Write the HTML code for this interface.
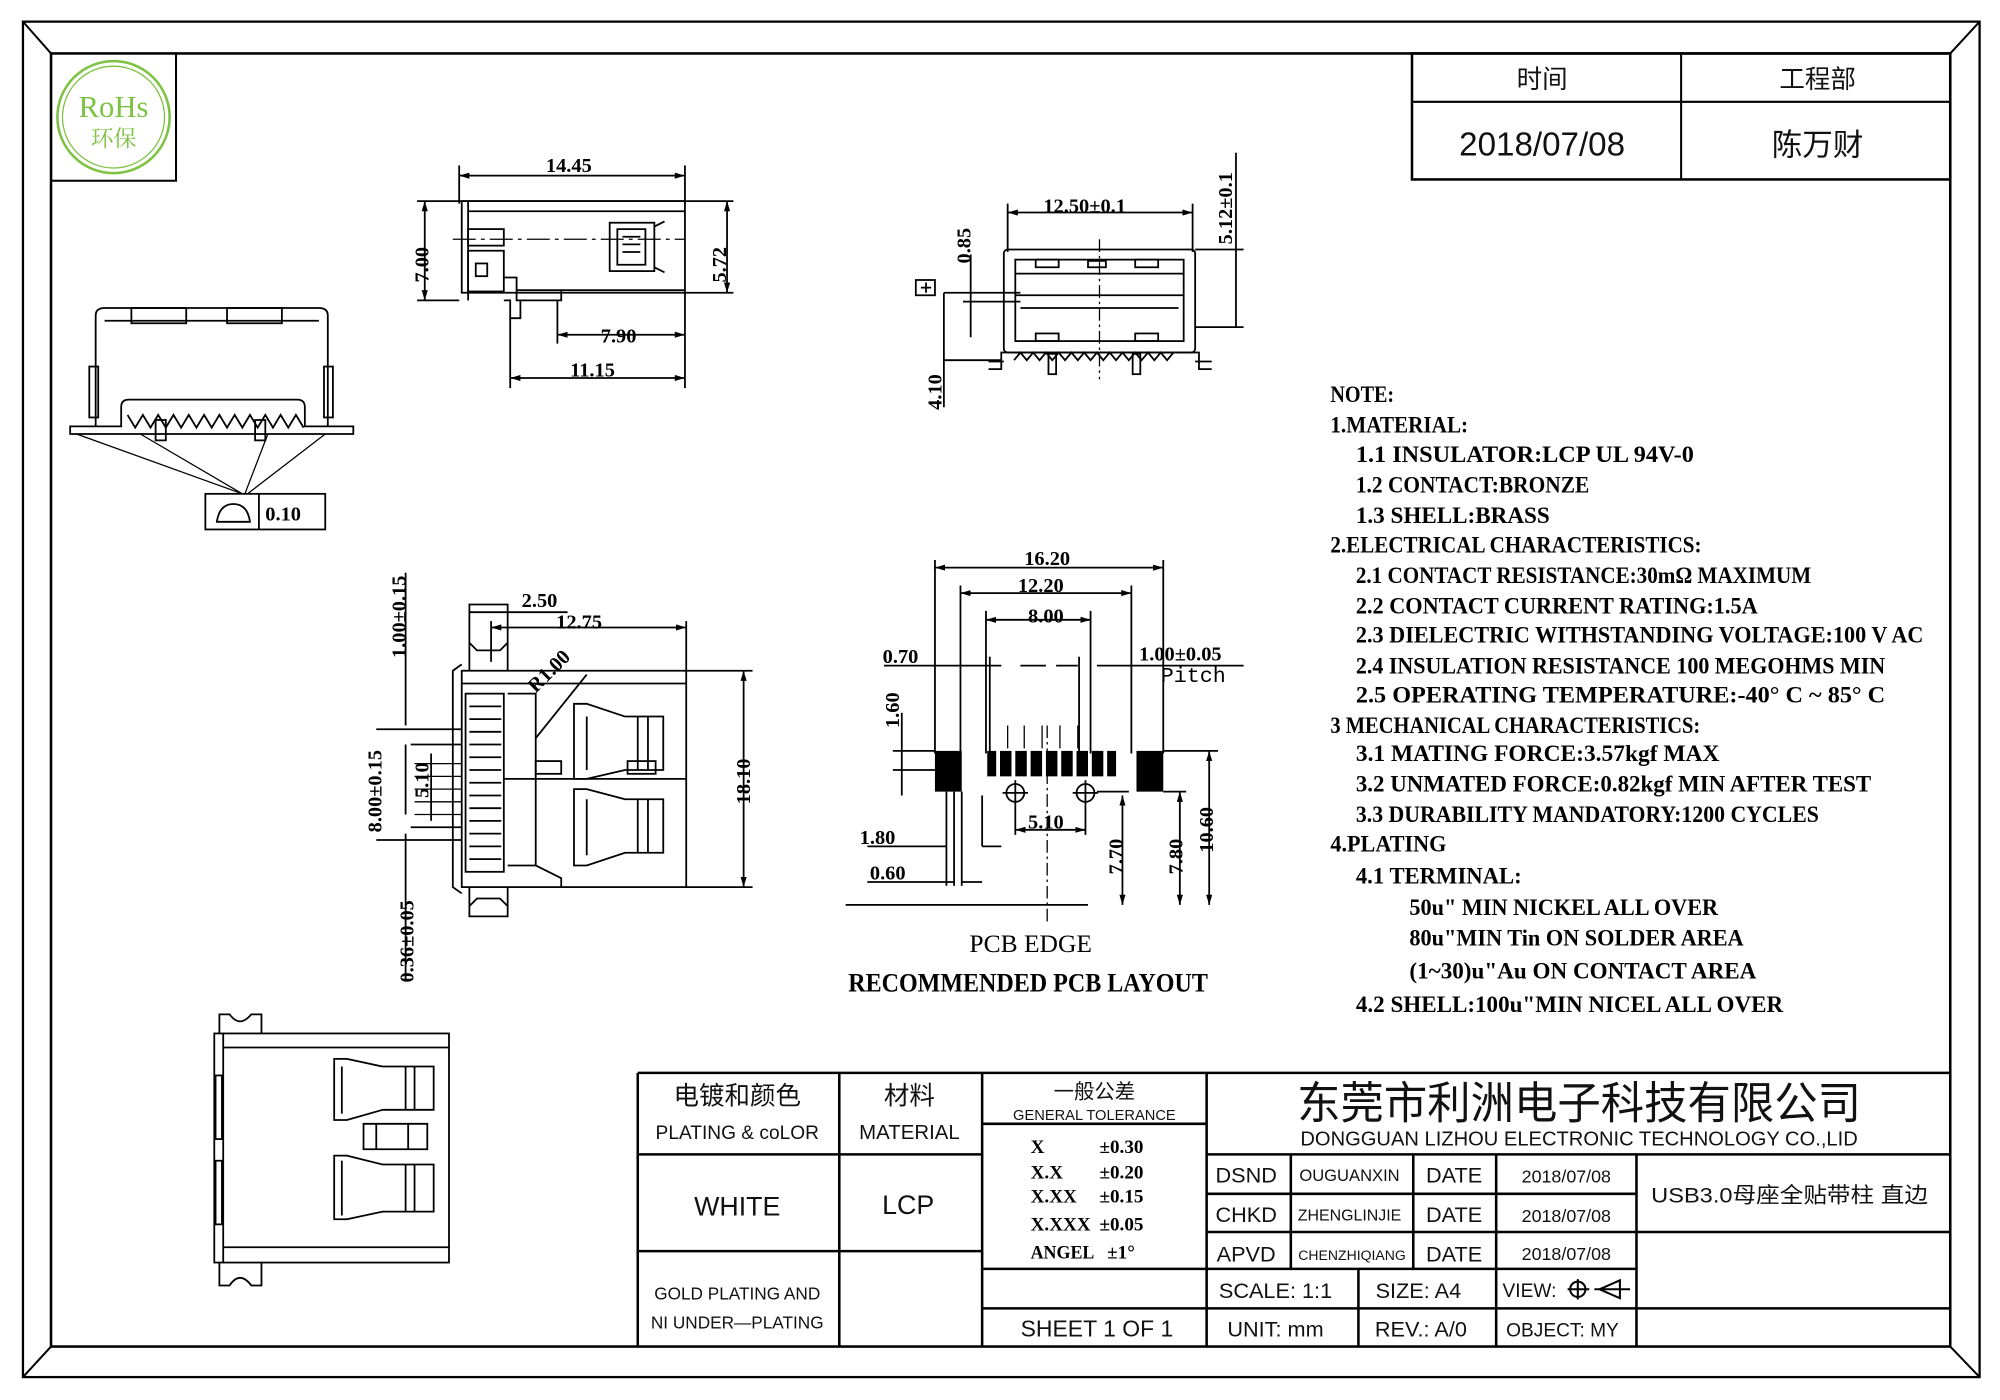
<!DOCTYPE html>
<html><head><meta charset="utf-8"><style>
html,body{margin:0;padding:0;background:#fff;}
svg{display:block;}
.t{font-family:"Liberation Sans","Noto Sans CJK SC",sans-serif;fill:#111;}
.n{font-family:"Liberation Serif",serif;font-weight:bold;fill:#000;}
.d{font-family:"Liberation Serif",serif;font-weight:bold;fill:#000;font-size:16px;}
</style></head><body>
<svg width="2000" height="1400" viewBox="0 0 1568 1100" preserveAspectRatio="none" xmlns="http://www.w3.org/2000/svg">
<defs>
<marker id="a" viewBox="0 0 10 6" refX="10" refY="3" markerWidth="8" markerHeight="5" orient="auto-start-reverse" markerUnits="userSpaceOnUse"><path d="M0 0 L10 3 L0 6 Z" fill="#000"/></marker>
</defs>
<rect width="1568" height="1100" fill="#fff"/>
<g fill="none" stroke="#000" stroke-width="1.6">
<rect x="18" y="17" width="1534" height="1065" stroke-width="1.8"/>
<rect x="40" y="42" width="1489" height="1016" stroke-width="2"/>
<line x1="18" y1="17" x2="40" y2="42"/><line x1="1552" y1="17" x2="1529" y2="42"/>
<line x1="18" y1="1082" x2="40" y2="1058"/><line x1="1552" y1="1082" x2="1529" y2="1058"/>
<rect x="40" y="42" width="98" height="100"/>
<rect x="1107" y="42" width="422" height="99" stroke-width="2"/>
<line x1="1107" y1="80" x2="1529" y2="80"/><line x1="1318" y1="42" x2="1318" y2="141"/>
<g stroke-width="2">
<line x1="500" y1="843" x2="1529" y2="843"/>
<line x1="500" y1="843" x2="500" y2="1058"/>
<line x1="658" y1="843" x2="658" y2="1058"/>
<line x1="770" y1="843" x2="770" y2="1058"/>
<line x1="946" y1="843" x2="946" y2="1058"/>
<line x1="1012" y1="907" x2="1012" y2="997"/>
<line x1="1108" y1="907" x2="1108" y2="997"/>
<line x1="1173" y1="907" x2="1173" y2="1058"/>
<line x1="1283" y1="907" x2="1283" y2="1058"/>
<line x1="1065" y1="997" x2="1065" y2="1058"/>
<line x1="500" y1="907" x2="770" y2="907"/>
<line x1="500" y1="983" x2="770" y2="983"/>
<line x1="770" y1="883" x2="946" y2="883"/>
<line x1="770" y1="997" x2="946" y2="997"/>
<line x1="770" y1="1028" x2="946" y2="1028"/>
<line x1="946" y1="907" x2="1529" y2="907"/>
<line x1="946" y1="938" x2="1283" y2="938"/>
<line x1="946" y1="968" x2="1529" y2="968"/>
<line x1="946" y1="997" x2="1283" y2="997"/>
<line x1="946" y1="1028" x2="1529" y2="1028"/>
</g>
<circle cx="1237" cy="1013" r="6"/><line x1="1229" y1="1013" x2="1246" y2="1013"/><line x1="1237" y1="1005" x2="1237" y2="1021"/>
<path d="M1254 1013 L1270 1006 L1270 1020 Z M1250 1013 L1278 1013"/>
</g>
<circle cx="89" cy="92" r="44" fill="none" stroke="#7dc242" stroke-width="2"/>
<circle cx="89" cy="92" r="40" fill="none" stroke="#7dc242" stroke-width="1"/>
<text x="89" y="92" text-anchor="middle" font-family="Liberation Serif,serif" font-size="24" fill="#7dc242">RoHs</text>
<text x="89" y="115" text-anchor="middle" font-family="Noto Serif CJK SC,serif" font-size="18" fill="#7dc242">环保</text>

<g class="t" text-anchor="middle">
<text x="1209" y="69" font-size="20">时间</text>
<text x="1425" y="69" font-size="20">工程部</text>
<text x="1209" y="122" font-size="26">2018/07/08</text>
<text x="1425" y="122" font-size="24">陈万财</text>
<text x="578" y="868" font-size="20">电镀和颜色</text>
<text x="578" y="895" font-size="15">PLATING &amp; coLOR</text>
<text x="713" y="868" font-size="20">材料</text>
<text x="713" y="895" font-size="16">MATERIAL</text>
<text x="858" y="863" font-size="16">一般公差</text>
<text x="858" y="880" font-size="11.5">GENERAL TOLERANCE</text>
<text x="578" y="955" font-size="21">WHITE</text>
<text x="712" y="954" font-size="21">LCP</text>
<text x="578" y="1021" font-size="13.5">GOLD PLATING AND</text>
<text x="578" y="1044" font-size="13.5">NI UNDER—PLATING</text>
<text x="1238" y="879" font-size="35" textLength="442" lengthAdjust="spacingAndGlyphs">东莞市利洲电子科技有限公司</text>
<text x="1238" y="900" font-size="16" textLength="437" lengthAdjust="spacingAndGlyphs">DONGGUAN LIZHOU ELECTRONIC TECHNOLOGY CO.,LID</text>
<text x="977" y="929" font-size="17">DSND</text>
<text x="977" y="960" font-size="17">CHKD</text>
<text x="977" y="991" font-size="17">APVD</text>
<text x="1058" y="928" font-size="13">OUGUANXIN</text>
<text x="1058" y="959" font-size="12.5">ZHENGLINJIE</text>
<text x="1060" y="990" font-size="11">CHENZHIQIANG</text>
<text x="1140" y="929" font-size="17">DATE</text>
<text x="1140" y="960" font-size="17">DATE</text>
<text x="1140" y="991" font-size="17">DATE</text>
<text x="1228" y="929" font-size="14">2018/07/08</text>
<text x="1228" y="960" font-size="14">2018/07/08</text>
<text x="1228" y="990" font-size="14">2018/07/08</text>
<text x="1403" y="945" font-size="17" textLength="217" lengthAdjust="spacingAndGlyphs">USB3.0母座全贴带柱 直边</text>
<text x="1000" y="1020" font-size="17">SCALE:  1:1</text>
<text x="1112" y="1020" font-size="17">SIZE:  A4</text>
<text x="860" y="1050" font-size="18">SHEET 1 OF 1</text>
<text x="1000" y="1050" font-size="17">UNIT:  mm</text>
<text x="1114" y="1050" font-size="17">REV.:  A/0</text>
<text x="1225" y="1050" font-size="15">OBJECT:  MY</text>
</g>
<text class="t" x="1178" y="1019" font-size="15">VIEW:</text>
<g class="n" font-size="15">
<text x="808" y="906">X</text><text x="862" y="906">±0.30</text>
<text x="808" y="926">X.X</text><text x="862" y="926">±0.20</text>
<text x="808" y="945">X.XX</text><text x="862" y="945">±0.15</text>
<text x="808" y="967">X.XXX</text><text x="862" y="967">±0.05</text>
<text x="808" y="989" textLength="50" lengthAdjust="spacingAndGlyphs">ANGEL</text><text x="868" y="989">±1°</text>
</g>

<g class="n" font-size="18">
<text x="1043" y="316" textLength="50" lengthAdjust="spacingAndGlyphs">NOTE:</text>
<text x="1043" y="340" textLength="108" lengthAdjust="spacingAndGlyphs">1.MATERIAL:</text>
<text x="1063" y="363" textLength="265" lengthAdjust="spacingAndGlyphs">1.1 INSULATOR:LCP UL 94V-0</text>
<text x="1063" y="387" textLength="183" lengthAdjust="spacingAndGlyphs">1.2 CONTACT:BRONZE</text>
<text x="1063" y="411" textLength="152" lengthAdjust="spacingAndGlyphs">1.3 SHELL:BRASS</text>
<text x="1043" y="434" textLength="291" lengthAdjust="spacingAndGlyphs">2.ELECTRICAL CHARACTERISTICS:</text>
<text x="1063" y="458" textLength="357" lengthAdjust="spacingAndGlyphs">2.1 CONTACT RESISTANCE:30mΩ MAXIMUM</text>
<text x="1063" y="482" textLength="315" lengthAdjust="spacingAndGlyphs">2.2 CONTACT CURRENT RATING:1.5A</text>
<text x="1063" y="505" textLength="445" lengthAdjust="spacingAndGlyphs">2.3 DIELECTRIC WITHSTANDING VOLTAGE:100 V AC</text>
<text x="1063" y="529" textLength="415" lengthAdjust="spacingAndGlyphs">2.4 INSULATION RESISTANCE 100 MEGOHMS MIN</text>
<text x="1063" y="552" textLength="415" lengthAdjust="spacingAndGlyphs">2.5 OPERATING TEMPERATURE:-40° C ~ 85° C</text>
<text x="1043" y="576" textLength="290" lengthAdjust="spacingAndGlyphs">3 MECHANICAL CHARACTERISTICS:</text>
<text x="1063" y="598" textLength="285" lengthAdjust="spacingAndGlyphs">3.1 MATING FORCE:3.57kgf MAX</text>
<text x="1063" y="622" textLength="404" lengthAdjust="spacingAndGlyphs">3.2 UNMATED FORCE:0.82kgf MIN AFTER TEST</text>
<text x="1063" y="646" textLength="363" lengthAdjust="spacingAndGlyphs">3.3 DURABILITY MANDATORY:1200 CYCLES</text>
<text x="1043" y="669" textLength="91" lengthAdjust="spacingAndGlyphs">4.PLATING</text>
<text x="1063" y="694" textLength="130" lengthAdjust="spacingAndGlyphs">4.1 TERMINAL:</text>
<text x="1105" y="719" textLength="242" lengthAdjust="spacingAndGlyphs">50u" MIN NICKEL ALL OVER</text>
<text x="1105" y="743" textLength="262" lengthAdjust="spacingAndGlyphs">80u"MIN Tin ON SOLDER AREA</text>
<text x="1105" y="769" textLength="272" lengthAdjust="spacingAndGlyphs">(1~30)u"Au ON CONTACT AREA</text>
<text x="1063" y="795" textLength="335" lengthAdjust="spacingAndGlyphs">4.2 SHELL:100u"MIN NICEL ALL OVER</text>
</g>

<g fill="none" stroke="#000" stroke-width="1.4">
<!-- front view top-left -->
<path d="M75 335 L75 248 Q75 242 82 242 L250 242 Q257 242 257 248 L257 335"/>
<line x1="82" y1="252" x2="250" y2="252"/>
<rect x="103" y="242" width="43" height="12"/><rect x="178" y="242" width="43" height="12"/>
<rect x="70" y="288" width="7" height="40"/><rect x="254" y="288" width="7" height="40"/>
<path d="M55 335 L95 335 L95 320 Q95 314 101 314 L233 314 Q239 314 239 320 L239 335 L277 335 L277 341 L55 341 Z"/>
<path d="M100 326 l6 10 l6 -10 l6 10 l6 -10 l6 10 l6 -10 l6 10 l6 -10 l6 10 l6 -10 l6 10 l6 -10 l6 10 l6 -10 l6 10 l6 -10 l6 10 l6 -10 l6 10 l6 -10 l6 10 l6 -10 l6 10"/>
<rect x="122" y="330" width="8" height="16"/><rect x="200" y="330" width="8" height="16"/>
<path d="M60 341 L190 388 M110 341 L190 388 M210 341 L192 388 M255 341 L194 388" stroke-width="1"/>
<rect x="161" y="388" width="94" height="28"/><line x1="203" y1="388" x2="203" y2="416"/>
<path d="M170 410 Q172 396 183 396 Q194 396 196 410 Z"/>

<!-- side view -->
<line x1="360" y1="138" x2="537" y2="138" marker-start="url(#a)" marker-end="url(#a)"/><line x1="360" y1="130" x2="360" y2="160"/><line x1="537" y1="130" x2="537" y2="160"/>
<line x1="327" y1="158" x2="575" y2="158"/><line x1="327" y1="236" x2="360" y2="236"/>
<line x1="333" y1="158" x2="333" y2="236" marker-start="url(#a)" marker-end="url(#a)"/>
<rect x="362" y="158" width="175" height="72"/>
<line x1="367" y1="166" x2="537" y2="166"/>
<line x1="367" y1="158" x2="367" y2="236"/>
<rect x="367" y="180" width="28" height="13"/>
<rect x="367" y="197" width="28" height="32"/><rect x="373" y="207" width="9" height="10"/>
<path d="M395 218 L405 218 L405 236 L440 236 L440 228 M405 228 L537 228"/>
<path d="M395 236 L400 236 L400 250 L408 250 L408 236"/>
<rect x="478" y="175" width="35" height="38"/><path d="M484 180 h22 v28 h-22 z M488 186 h14 M488 192 h14 M488 198 h14"/>
<path d="M513 178 l8 -4 M513 210 l8 4"/>
<line x1="355" y1="188" x2="537" y2="188" stroke-dasharray="18 4 3 4" stroke-width="1"/>
<line x1="537" y1="230" x2="575" y2="230"/><line x1="570" y1="158" x2="570" y2="230" marker-start="url(#a)" marker-end="url(#a)"/>
<line x1="437" y1="263" x2="537" y2="263" marker-start="url(#a)" marker-end="url(#a)"/><line x1="437" y1="236" x2="437" y2="270"/><line x1="537" y1="230" x2="537" y2="305"/>
<line x1="400" y1="297" x2="537" y2="297" marker-start="url(#a)" marker-end="url(#a)"/><line x1="400" y1="250" x2="400" y2="305"/>

<!-- front view top-middle -->
<line x1="790" y1="167" x2="935" y2="167" marker-start="url(#a)" marker-end="url(#a)"/><line x1="790" y1="160" x2="790" y2="198"/><line x1="935" y1="160" x2="935" y2="198"/>
<rect x="787" y="196" width="150" height="81" rx="3"/>
<rect x="796" y="204" width="132" height="64"/>
<line x1="796" y1="215" x2="928" y2="215"/><line x1="796" y1="232" x2="928" y2="232"/><line x1="800" y1="242" x2="924" y2="242"/>
<rect x="812" y="204" width="18" height="6"/><rect x="853" y="205" width="14" height="5"/><rect x="890" y="204" width="18" height="6"/>
<rect x="812" y="262" width="18" height="6"/><rect x="890" y="262" width="18" height="6"/>
<path d="M775 290 L785 290 L785 277 L940 277 L940 290 L950 290 M775 284 L787 284 M937 284 L950 284"/>
<path d="M795 283 l5 -6 l5 6 l5 -6 l5 6 l5 -6 l5 6 l5 -6 l5 6 l5 -6 l5 6 l5 -6 l5 6 l5 -6 l5 6 l5 -6 l5 6 l5 -6 l5 6 l5 -6 l5 6 l5 -6 l5 6 l5 -6 l5 6 l5 -6"/>
<rect x="822" y="278" width="6" height="16"/><rect x="888" y="278" width="6" height="16"/>
<line x1="862" y1="188" x2="862" y2="298" stroke-dasharray="10 3 2 3" stroke-width="1"/>
<line x1="937" y1="196" x2="975" y2="196"/><line x1="937" y1="257" x2="975" y2="257"/><line x1="969" y1="120" x2="969" y2="257"/>
<line x1="740" y1="230" x2="800" y2="230"/><line x1="755" y1="237" x2="800" y2="237"/><line x1="761" y1="200" x2="761" y2="265"/>
<line x1="740" y1="230" x2="740" y2="320"/><line x1="740" y1="283" x2="785" y2="283"/>
<rect x="718" y="220" width="15" height="12"/><line x1="722" y1="226" x2="730" y2="226"/><line x1="726" y1="222" x2="726" y2="230"/>

<!-- middle-left top view -->
<rect x="362" y="527" width="176" height="170"/>
<line x1="362" y1="537" x2="538" y2="537"/><line x1="395" y1="612" x2="538" y2="612"/>
<path d="M362 522 L355 527 L355 697 L362 702"/>
<path d="M368 527 L368 475 L398 475 L398 527 M368 505 l6 6 h18 l6 -6"/>
<path d="M368 697 L368 720 L398 720 L398 697 M368 712 l6 -6 h18 l6 6"/>
<rect x="365" y="545" width="30" height="140"/>
<path d="M368 555 h25 M368 565 h25 M368 575 h25 M368 585 h25 M368 595 h25 M368 605 h25 M368 615 h25 M368 625 h25 M368 635 h25 M368 645 h25 M368 655 h25 M368 665 h25 M368 675 h25"/>
<path d="M398 545 L420 545 L420 680 L398 680"/>
<path d="M450 553 L460 553 L490 563 L520 563 L520 605 L490 605 L460 612 L450 612 Z M460 563 L460 605 M500 563 L500 605 M508 563 L508 605"/>
<path d="M450 620 L460 620 L490 628 L520 628 L520 670 L490 670 L460 680 L450 680 Z M460 628 L460 672 M500 628 L500 670 M508 628 L508 670"/>
<rect x="420" y="598" width="20" height="10"/><rect x="492" y="598" width="22" height="10"/>
<path d="M420 680 L440 690 L440 697"/>
<line x1="583" y1="527" x2="583" y2="697" marker-start="url(#a)" marker-end="url(#a)"/><line x1="538" y1="527" x2="590" y2="527"/><line x1="538" y1="697" x2="590" y2="697"/>
<line x1="385" y1="493" x2="538" y2="493" marker-start="url(#a)" marker-end="url(#a)"/><line x1="385" y1="488" x2="385" y2="520"/><line x1="538" y1="488" x2="538" y2="527"/>
<line x1="368" y1="481" x2="445" y2="481"/>
<line x1="420" y1="580" x2="460" y2="530"/>
<line x1="318" y1="450" x2="318" y2="570"/><line x1="318" y1="585" x2="318" y2="640"/><line x1="318" y1="655" x2="318" y2="770"/>
<line x1="295" y1="573" x2="362" y2="573"/><line x1="295" y1="660" x2="362" y2="660"/>
<line x1="322" y1="585" x2="362" y2="585"/><line x1="322" y1="650" x2="362" y2="650"/>
<line x1="338" y1="592" x2="338" y2="645"/>
<path d="M325 600 h37 M325 610 h37 M325 620 h37 M325 630 h37 M325 640 h37" stroke-width="1"/>

<!-- PCB layout -->
<line x1="733" y1="446" x2="912" y2="446" marker-start="url(#a)" marker-end="url(#a)"/><line x1="733" y1="440" x2="733" y2="592"/><line x1="912" y1="440" x2="912" y2="592"/>
<line x1="753" y1="466" x2="887" y2="466" marker-start="url(#a)" marker-end="url(#a)"/><line x1="753" y1="460" x2="753" y2="592"/><line x1="887" y1="460" x2="887" y2="592"/>
<line x1="773" y1="487" x2="855" y2="487" marker-start="url(#a)" marker-end="url(#a)"/><line x1="773" y1="480" x2="773" y2="592"/><line x1="855" y1="480" x2="855" y2="592"/>
<line x1="693" y1="523" x2="785" y2="523"/><line x1="800" y1="523" x2="820" y2="523"/><line x1="828" y1="523" x2="845" y2="523"/><line x1="860" y1="523" x2="975" y2="523"/>
<line x1="776" y1="516" x2="776" y2="592"/><line x1="846" y1="516" x2="846" y2="592"/>
<line x1="700" y1="590" x2="733" y2="590"/><line x1="700" y1="605" x2="733" y2="605"/><line x1="707" y1="560" x2="707" y2="625"/>
<line x1="912" y1="590" x2="955" y2="590"/><line x1="948" y1="590" x2="948" y2="711" marker-start="url(#a)" marker-end="url(#a)"/>
<line x1="912" y1="622" x2="930" y2="622"/><line x1="925" y1="622" x2="925" y2="711" marker-start="url(#a)" marker-end="url(#a)"/>
<line x1="860" y1="622" x2="885" y2="622"/><line x1="880" y1="625" x2="880" y2="711" marker-start="url(#a)" marker-end="url(#a)"/>
<line x1="663" y1="711" x2="853" y2="711"/>
<line x1="821" y1="570" x2="821" y2="725" stroke-dasharray="10 3 2 3" stroke-width="1"/>
<line x1="742" y1="622" x2="742" y2="696"/><line x1="748" y1="622" x2="748" y2="696"/><line x1="754" y1="622" x2="754" y2="696"/><line x1="770" y1="625" x2="770" y2="665"/>
<line x1="680" y1="665" x2="742" y2="665"/><line x1="770" y1="665" x2="785" y2="665"/>
<line x1="680" y1="693" x2="748" y2="693"/><line x1="754" y1="693" x2="770" y2="693"/>
<circle cx="796" cy="623" r="7"/><line x1="786" y1="623" x2="806" y2="623"/><line x1="796" y1="613" x2="796" y2="633"/>
<circle cx="851" cy="623" r="7"/><line x1="841" y1="623" x2="861" y2="623"/><line x1="851" y1="613" x2="851" y2="633"/>
<line x1="796" y1="652" x2="851" y2="652" marker-start="url(#a)" marker-end="url(#a)"/><line x1="796" y1="633" x2="796" y2="656"/><line x1="851" y1="633" x2="851" y2="656"/>
<path d="M790 570 v18 M803 570 v18 M817 570 v18 M831 570 v18 M845 570 v18" stroke-width="1"/>
<!-- bottom-left view -->
<rect x="168" y="812" width="184" height="180"/>
<line x1="175" y1="823" x2="352" y2="823"/><line x1="175" y1="980" x2="352" y2="980"/>
<line x1="175" y1="812" x2="175" y2="992"/>
<rect x="169" y="845" width="5" height="50"/><rect x="169" y="912" width="5" height="50"/>
<path d="M172 812 L172 797 L180 797 Q188 808 197 797 L205 797 L205 812"/>
<path d="M172 992 L172 1010 L180 1010 Q188 998 197 1010 L205 1010 L205 992"/>
<path d="M262 832 L272 832 L300 838 L340 838 L340 872 L300 872 L272 880 L262 880 Z M268 838 L268 875 M318 838 L318 872 M325 838 L325 872"/>
<path d="M285 883 L335 883 L335 903 L285 903 Z M295 883 L295 903 M320 883 L320 903"/>
<path d="M262 908 L272 908 L300 915 L340 915 L340 952 L300 952 L272 958 L262 958 Z M268 912 L268 955 M318 915 L318 952 M325 915 L325 952"/>
</g>
<g fill="#000">
<rect x="733" y="590" width="21" height="32"/><rect x="891" y="590" width="21" height="32"/>
<rect x="774" y="590" width="7" height="20"/>
<rect x="784" y="590" width="9" height="20"/><rect x="796" y="590" width="9" height="20"/><rect x="808" y="590" width="9" height="20"/>
<rect x="820" y="590" width="9" height="20"/><rect x="832" y="590" width="9" height="20"/><rect x="844" y="590" width="9" height="20"/>
<rect x="856" y="590" width="9" height="20"/><rect x="868" y="590" width="7" height="20"/>
</g>
<g class="d">
<text x="428" y="135">14.45</text>
<text x="471" y="269">7.90</text>
<text x="447" y="296">11.15</text>
<text x="818" y="167">12.50±0.1</text>
<text x="208" y="409">0.10</text>
<text x="409" y="477">2.50</text>
<text x="436" y="494">12.75</text>
<text x="803" y="444">16.20</text>
<text x="798" y="465">12.20</text>
<text x="806" y="489">8.00</text>
<text x="692" y="521">0.70</text>
<text x="893" y="519">1.00±0.05</text>
<text x="806" y="651">5.10</text>
<text x="674" y="663">1.80</text>
<text x="682" y="691">0.60</text>
<text x="420" y="545" transform="rotate(-45 420 545)">R1.00</text>
</g>
<text x="910" y="536" font-family="Liberation Mono,monospace" font-size="17" fill="#000">Pitch</text>
<g class="d">
<text transform="translate(336 222) rotate(-90)">7.00</text>
<text transform="translate(569 222) rotate(-90)">5.72</text>
<text transform="translate(761 207) rotate(-90)">0.85</text>
<text transform="translate(738 322) rotate(-90)">4.10</text>
<text transform="translate(966 192) rotate(-90)">5.12±0.1</text>
<text transform="translate(318 517) rotate(-90)">1.00±0.15</text>
<text transform="translate(299 654) rotate(-90)">8.00±0.15</text>
<text transform="translate(336 627) rotate(-90)">5.10</text>
<text transform="translate(324 772) rotate(-90)">0.36±0.05</text>
<text transform="translate(588 632) rotate(-90)">18.10</text>
<text transform="translate(705 572) rotate(-90)">1.60</text>
<text transform="translate(880 687) rotate(-90)">7.70</text>
<text transform="translate(927 687) rotate(-90)">7.80</text>
<text transform="translate(951 670) rotate(-90)">10.60</text>
</g>
<text x="760" y="748" font-family="Liberation Serif,serif" font-size="20" fill="#000">PCB EDGE</text>
<text x="665" y="779" font-family="Liberation Serif,serif" font-weight="bold" font-size="21" fill="#000" textLength="282" lengthAdjust="spacingAndGlyphs">RECOMMENDED PCB LAYOUT</text>
</svg>
</body></html>
